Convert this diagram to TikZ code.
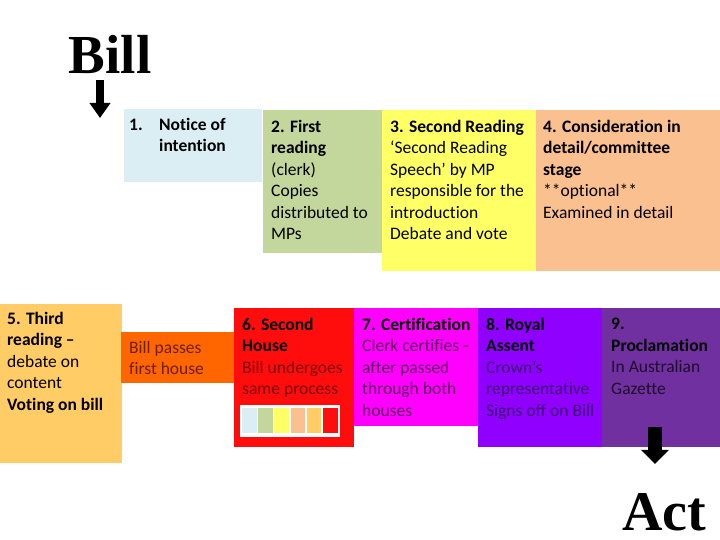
\documentclass[tikz,border=0pt]{standalone}
\usepackage{fontspec}
\setmainfont{Carlito}[Ligatures={NoCommon}]
\newfontfamily\titlefont{Liberation Serif}
\usetikzlibrary{arrows.meta}

\definecolor{cNotice}{HTML}{DBEEF4}
\definecolor{cFirst}{HTML}{C3D69B}
\definecolor{cSecond}{HTML}{FFFF66}
\definecolor{cConsider}{HTML}{FAC08F}
\definecolor{cThird}{HTML}{FFCC66}
\definecolor{cPass}{HTML}{FF6600}
\definecolor{cHouse}{HTML}{FF0D0D}
\definecolor{cCert}{HTML}{FF00FF}
\definecolor{cAssent}{HTML}{8F00FF}
\definecolor{cProc}{HTML}{7030A0}
\definecolor{tHouse}{HTML}{7A0000}
\definecolor{tCert}{HTML}{5E005E}
\definecolor{tAssent}{HTML}{3E0070}
\definecolor{tProc}{HTML}{1E0A2E}
\definecolor{tPass}{HTML}{6E1E00}

\tikzset{
	stage/.style={rectangle, inner sep=0pt, anchor=north west},
	stagetext/.style={inner sep=0pt, anchor=north west, align=left,
		font=\fontsize{17.5}{21.5}\selectfont},
}

\begin{document}
\begin{tikzpicture}[x=1pt, y=-1pt]
\useasboundingbox (0,0) rectangle (720,540);

%% Bill
\node[inner sep=0pt, anchor=base, font=\titlefont\bfseries\fontsize{55}{60}\selectfont] (bill) at (110,74) {Bill};
\coordinate (billend) at (100,118);
\draw[line width=8pt, -{Triangle[width=20pt, length=15pt]}, shorten <=6pt] (bill.south -| billend) -- (billend);

%% Erste Kammer
\node[stage, fill=cNotice, minimum width=138pt, minimum height=73pt] (b1) at (124,109) {};
\node[stagetext, font=\bfseries\fontsize{17.5}{21.5}\selectfont] (t1) at (129,118) {\makebox[30pt][l]{1.}Notice of\\\hspace*{30pt}intention};

\node[stage, fill=cFirst, minimum width=119pt, minimum height=143pt] (b2) at (263,110) {};
\node[stagetext] (t2) at (271,120) {\textbf{2. First}\\\textbf{reading}\\(clerk)\\Copies\\distributed to\\MPs};

\node[stage, fill=cSecond, minimum width=154pt, minimum height=161pt] (b3) at (382,110) {};
\node[stagetext] (t3) at (390,120) {\textbf{3. Second Reading}\\‘Second Reading\\Speech’ by MP\\responsible for the\\introduction\\Debate and vote};

\node[stage, fill=cConsider, minimum width=184pt, minimum height=161pt] (b4) at (536,110) {};
\node[stagetext] (t4) at (543,120) {\textbf{4. Consideration in}\\\textbf{detail/committee}\\\textbf{stage}\\**optional**\\Examined in detail};

\node[stage, fill=cThird, minimum width=122pt, minimum height=159pt] (b5) at (0,304) {};
\node[stagetext] (t5) at (7,312) {\textbf{5. Third}\\\textbf{reading –}\\debate on\\content\\\textbf{Voting on bill}};

\node[stage, fill=cPass, minimum width=115pt, minimum height=51pt] (bpass) at (121,332) {};
\node[stagetext, text=tPass] (tpass) at (129,341) {Bill passes\\first house};

%% Zweite Kammer und Abschluss
\node[stage, fill=cHouse, minimum width=120pt, minimum height=139pt] (b6) at (234,308) {};
\node[stagetext, text=tHouse] (t6) at (242,318) {\textcolor{black}{\textbf{6. Second}}\\\textcolor{black}{\textbf{House}}\\Bill undergoes\\same process};
\fill[white] (240,405) rectangle (340,437);
\foreach \c [count=\i from 0] in {cNotice, cFirst, cSecond, cConsider, cThird, cHouse}
	\fill[\c] (242+\i*16.2,408) rectangle +(14.5,25);

\node[stage, fill=cCert, minimum width=124pt, minimum height=118pt] (b7) at (354,308) {};
\node[stagetext, text=tCert] (t7) at (362,318) {\textcolor{black}{\textbf{7. Certification}}\\Clerk certifies -\\after passed\\through both\\houses};

\node[stage, fill=cAssent, minimum width=124pt, minimum height=139pt] (b8) at (478,308) {};
\node[stagetext, text=tAssent] (t8) at (486,318) {\textcolor{black}{\textbf{8. Royal}}\\\textcolor{black}{\textbf{Assent}}\\Crown’s\\representative\\Signs off on Bill};

\node[stage, fill=cProc, minimum width=118pt, minimum height=139pt] (b9) at (602,308) {};
\node[stagetext, text=tProc] (t9) at (611,318) {\textcolor{black}{\textbf{9.}}\\\textcolor{black}{\textbf{Proclamation}}\\In Australian\\Gazette};

%% Act
\node[inner sep=0pt, anchor=base, font=\titlefont\bfseries\fontsize{56}{60}\selectfont] (act) at (664,530) {Act};
\coordinate (actstart) at (655,427);
\draw[line width=14pt, -{Triangle[width=27pt, length=14pt]}, shorten >=29pt] (actstart) -- (act.north -| actstart);

\end{tikzpicture}
\end{document}
